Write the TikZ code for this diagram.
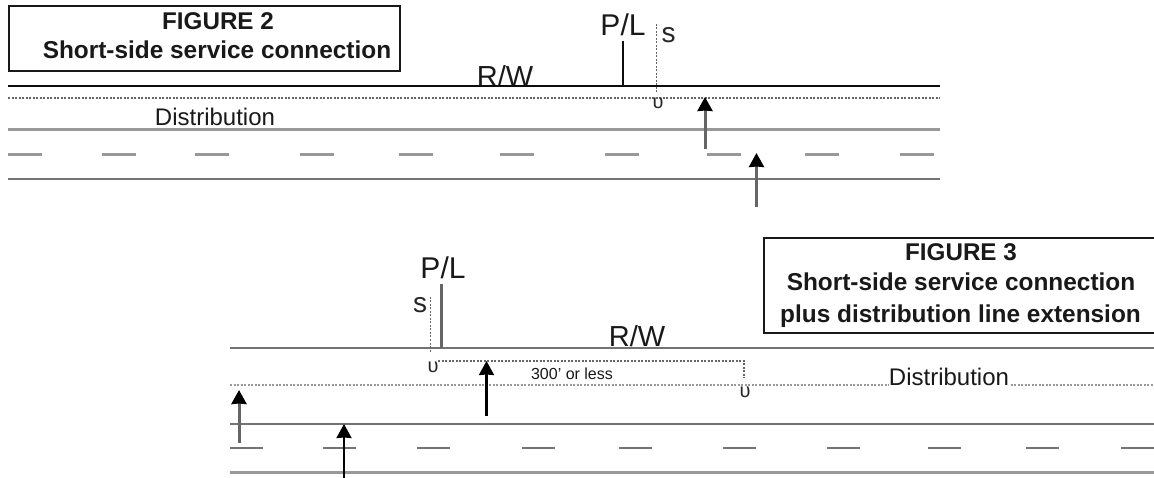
\documentclass[tikz,border=0pt]{standalone}
\usepackage{fontspec}
\setmainfont{Liberation Sans}
\usetikzlibrary{arrows.meta}
\begin{document}
\begin{tikzpicture}[x=1pt,y=-1pt,>={Stealth[length=14pt,width=15pt,inset=0.5pt]},inner sep=0pt]
      \tikzstyle{boxtitle}=[rectangle,draw=black!90,line width=2pt,fill=white]
      \tikzstyle{headtext}=[font=\fontsize{24.2}{26}\selectfont\bfseries,text=black!90]
      \tikzstyle{subtext}=[font=\fontsize{24.4}{26}\selectfont\bfseries,text=black!90]
      \tikzstyle{pltext}=[font=\fontsize{30}{32}\selectfont,text=black!90]
      \tikzstyle{rwtext}=[font=\fontsize{29}{30}\selectfont,text=black!90]
      \tikzstyle{disttext}=[font=\fontsize{24}{26}\selectfont,text=black!90]
      \tikzstyle{smalltext}=[font=\fontsize{16}{18}\selectfont,text=black!90]
      \tikzstyle{stext}=[font=\fontsize{28}{30}\selectfont,text=black!85]
      \tikzstyle{utext}=[font=\fontsize{20}{22}\selectfont,text=black!85]
      \tikzstyle{dotline}=[black!60,line width=1.4pt,dash pattern=on 2pt off 1.5pt]
      \tikzstyle{road}=[black!40,line width=3pt]
      \tikzstyle{roadd}=[black!55,line width=2.2pt]
      \tikzstyle{arrg}=[black!60,line width=3pt,-{Stealth[length=14pt,width=15pt,inset=0.5pt,black]}]
      \tikzstyle{arrk}=[->,black,line width=2.2pt]
      \useasboundingbox (0,0) rectangle (1154,478);
      % figure 2
      \node[boxtitle,minimum width=391pt,minimum height=65pt,anchor=north west](box-a) at (8,5) {};
      \node[headtext](fig-a) at (218,21) {FIGURE 2};
      \node[subtext](sub-a) at (217,50) {Short-side service connection};
      \coordinate (a1) at (8,86);   \coordinate (a2) at (940,86);
      \coordinate (b1) at (8,98);   \coordinate (b2) at (940,98);
      \coordinate (c1) at (8,130);  \coordinate (c2) at (940,130);
      \coordinate (d1) at (8,179);  \coordinate (d2) at (940,179);
      \node[rwtext,anchor=base](rw-a) at (505,87) {R/W};
      \draw[black!95,line width=2pt](a1)--(a2);
      \draw[dotline](b1)--(b2);
      \draw[road](c1)--(c2);
      \draw[roadd](d1)--(d2);
      \foreach \i in {8,102,195,300,399,500,605,707,805,900}
        \draw[road] (\i,155)--(\i+34,155);
      \node[disttext](dist-a) at (215,116.5) {Distribution};
      \node[pltext](pl-a) at (623,24.5) {P/L};
      \node[stext](s-a) at (668.5,35) {s};
      \node[utext](u-a) at (658,103) {υ};
      \coordinate (pl-a-top) at (622.5,41);  \coordinate (pl-a-foot) at (622.5,86);
      \coordinate (s-a-top) at (656.5,24);   \coordinate (s-a-foot) at (656.5,92);
      \draw[black!95,line width=2pt](pl-a-top)--(pl-a-foot);
      \draw[dotline](s-a-top)--(s-a-foot);
      \coordinate (e1) at (705,149);  \coordinate (e2) at (705,97);
      \coordinate (f1) at (756.5,207); \coordinate (f2) at (756.5,153);
      \draw[arrg](e1)--(e2);
      \draw[arrg](f1)--(f2);
      % figure 3
      \coordinate (g1) at (230,348);  \coordinate (g2) at (1154,348);
      \coordinate (h1) at (230,385);  \coordinate (h2) at (1154,385);
      \coordinate (i1) at (230,424);  \coordinate (i2) at (1154,424);
      \coordinate (j1) at (230,472);  \coordinate (j2) at (1154,472);
      \node[rwtext,anchor=base](rw-b) at (637,347) {R/W};
      \draw[roadd](g1)--(g2);
      \draw[dotline,black!40](h1)--(h2);
      \draw[roadd](i1)--(i2);
      \draw[road](j1)--(j2);
      \foreach \i in {230,323,417,522,619,723,827,928,1026,1121}
        \draw[roadd] (\i,448)--(\i+33,448);
      \node[boxtitle,minimum width=392pt,minimum height=95pt,anchor=north west](box-b) at (762.5,237) {};
      \node[headtext](fig-b) at (961,252) {FIGURE 3};
      \node[subtext](sub-b) at (961,282) {Short-side service connection};
      \node[subtext](ext-b) at (960.5,316) {plus distribution line extension};
      \node[disttext,fill=white,inner sep=0pt](dist-b) at (949,377) {Distribution};
      \node[pltext](pl-b) at (443,268) {P/L};
      \node[stext](s-b) at (420,305) {s};
      \node[utext](u-b) at (433,367) {υ};
      \node[utext](u-c) at (745,392) {υ};
      \node[smalltext](len-b) at (572,374) {300' or less};
      \coordinate (pl-b-top) at (441.5,284);  \coordinate (pl-b-foot) at (441.5,348);
      \coordinate (s-b-top) at (430.5,297);   \coordinate (s-b-foot) at (430.5,352);
      \coordinate (k1) at (438,361); \coordinate (k2) at (744,361); \coordinate (k3) at (744,378);
      \draw[black!60,line width=2.4pt](pl-b-top)--(pl-b-foot);
      \draw[dotline](s-b-top)--(s-b-foot);
      \draw[dotline](k1)--(k2)--(k3);
      \coordinate (m1) at (486.5,416); \coordinate (m2) at (486.5,361);
      \coordinate (n1) at (239,443);   \coordinate (n2) at (239,390);
      \coordinate (o1) at (344,478);   \coordinate (o2) at (344,424);
      \draw[arrk](m1)--(m2);
      \draw[arrg](n1)--(n2);
      \draw[arrk](o1)--(o2);
    \end{tikzpicture}
\end{document}
